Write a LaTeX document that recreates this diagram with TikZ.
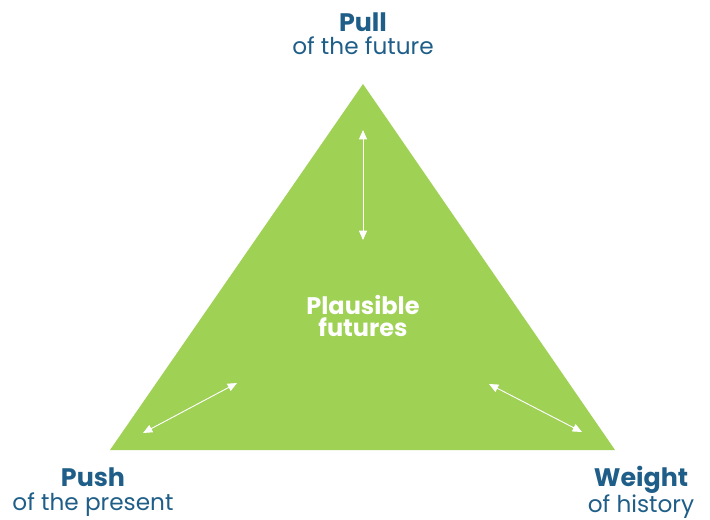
\documentclass[tikz,border=0pt]{standalone}
\usepackage{fontspec}
\setmainfont{Poppins}
\usepackage{xcolor}
\usetikzlibrary{arrows.meta, positioning}
\definecolor{leaf}{HTML}{9ED154}
\definecolor{ink}{HTML}{1F5E88}
\newcommand{\forcename}[1]{{\fontsize{19}{17}\selectfont\bfseries #1}}

\begin{document}
\begin{tikzpicture}[x=0.75pt, y=-0.75pt,
  corner/.style={text=ink, align=center, font=\fontsize{17.4}{17.5}\selectfont, inner sep=0pt},
  pull/.style={{Triangle[length=7pt,width=6pt]}-{Triangle[length=7pt,width=6pt]}, white, line width=0.7pt}
]
\useasboundingbox (0,0) rectangle (710,519);

% --- the triangle ---
\coordinate (top)   at (363,84);
\coordinate (left)  at (110,450);
\coordinate (right) at (615,450);
\fill[leaf] (top) -- (right) -- (left) -- cycle;

\node[text=white, align=center, font=\fontsize{18}{17}\selectfont\bfseries] (plaus) at (363,316) {Plausible\\futures};

% --- forces at the corners ---
\node[corner] (future)  at (363,34)  {\forcename{Pull}\\of the future};
\node[corner] (present) at (93,492)  {\forcename{Push}\\of the present};
\node[corner] (history) at (641,492) {\forcename{Weight}\\of history};

% --- arrows inside ---
\coordinate (a1) at (363,130);
\coordinate (a2) at (363,240);
\coordinate (b1) at (143,433);
\coordinate (b2) at (237,383);
\coordinate (c1) at (489,384);
\coordinate (c2) at (582,432);
\draw[pull] (a1) -- (a2);
\draw[pull] (b1) -- (b2);
\draw[pull] (c1) -- (c2);

\end{tikzpicture}
\end{document}
